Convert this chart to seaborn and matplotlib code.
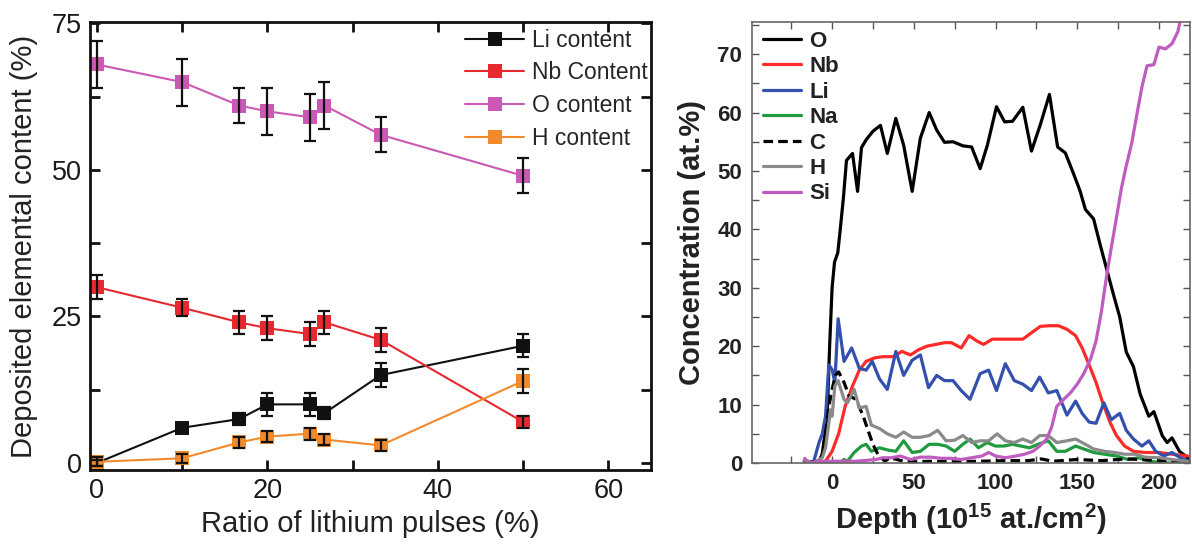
import numpy as np
import pandas as pd
import matplotlib
matplotlib.use("Agg")
import matplotlib.pyplot as plt
from matplotlib.ticker import MultipleLocator
from matplotlib.lines import Line2D
import seaborn as sns

# ---------------- left panel: deposited composition vs. Li pulse ratio ----------------
li_ratio = [0, 10, 16.7, 20, 25, 26.7, 33.3, 50]

li_content = [0, 6, 7.5, 10, 10, 8.5, 15, 20]
li_err = [0.5, 0.8, 1, 2, 2, 1, 2, 2]
nb_content = [30, 26.5, 24, 23, 22, 24, 21, 7]
nb_err = [2, 1.5, 2, 2, 2, 2, 2, 1]
o_content = [68, 65, 61, 60, 59, 61, 56, 49]
o_err = [4, 4, 3, 4, 4, 4, 3, 3]
h_content = [0.2, 0.8, 3.5, 4.5, 5, 4, 3, 14]
h_err = [0.8, 0.8, 1, 1, 1, 1, 1, 2]

left_labels = ["Li content", "Nb Content", "O content", "H content"]
left_colors = ["#111111", "#e8282f", "#cc58b6", "#f28a2c"]

# ---------------- right panel: depth profile ----------------
o_depth = [-17, -11.5, -8, -6, -3, -1.5, 0, 1.5, 3.5, 5, 7, 8.8, 12.5, 15.6, 18, 21, 25, 29.6,
           33.8, 39, 43.8, 49, 54, 59.4, 64, 68.8, 74, 80, 85.4, 90.6, 95, 100.6, 105.6, 110.4,
           116.7, 122, 127.5, 133, 138, 142.7, 147.5, 151.7, 155, 160, 164, 168, 172.5, 176,
           180, 184.4, 188.5, 193.8, 196.9, 202, 205, 208, 212.5, 217.7]
o_conc = [0.3, 0, 0.2, 1.5, 8, 20, 30, 34.4, 36, 40, 45.6, 51.8, 53, 46.5, 54, 55.4, 56.8, 57.8,
          53, 59, 54.4, 46.5, 55.6, 60, 57, 54.9, 55, 54.3, 54.1, 50.4, 54.4, 61, 58.4, 58.5,
          60.9, 53.4, 58, 63.1, 54.1, 53.1, 49.7, 46.6, 43.4, 41.8, 37.4, 33.2, 28.5, 25,
          19, 16.5, 11.8, 8, 8.8, 4.7, 3.5, 4.3, 2, 0.9]

nb_depth = [-17, -8, -4, 0, 4, 8, 12.5, 16.7, 20.8, 26, 31, 37.5, 42.7, 48, 53, 58, 63.5, 68.8,
            73, 79, 83.8, 88.5, 92.7, 98, 104, 111.5, 116.7, 122.5, 127.5, 133, 138.5, 143.7,
            149, 153, 157.3, 161.5, 165.6, 170, 174, 179, 184.4, 191.6, 200, 208, 217.7]
nb_conc = [0, 0, 0.3, 2, 5, 9.7, 13.2, 15.9, 17.4, 18, 18.2, 18.2, 19.1, 18.5, 19.4, 20, 20.3, 20.6,
           20.6, 19.7, 21.8, 20.9, 20.3, 21.2, 21.2, 21.2, 21.2, 22.4, 23.4, 23.5, 23.5, 22.9,
           21.8, 19.7, 16.8, 13.8, 10.3, 7, 4.7, 2.9, 2, 1.8, 1.8, 1.5, 1.2]

li_depth = [-17, -11.5, -8, -6, -4, -2, 0, 1.7, 3.7, 7.3, 12, 16.7, 20.8, 24.6, 29, 33.8, 39,
            43.8, 49, 54, 59, 64, 68.8, 74, 79, 84.4, 90.6, 95.8, 100.6, 106, 111.5, 116.7, 122,
            127, 132.3, 137.5, 143.7, 149, 153, 157.3, 161.5, 166.3, 170.8, 176, 180, 184.4,
            189.6, 193.8, 198, 203, 208, 213, 218.7]
li_conc = [0.5, 0, 3.5, 5, 8, 16.8, 16, 13.8, 24.7, 17.4, 19.7, 16.2, 15.9, 17.4, 14.4, 12.6, 19.1,
           15, 17.6, 18.5, 12.9, 15, 14.1, 14.1, 12.4, 10.9, 15.3, 15.9, 12.4, 17, 14.1, 13.5, 12.4,
           14.7, 12, 12.4, 8.2, 10.6, 8.5, 7, 6.8, 10.3, 7.4, 8.5, 5.6, 4.1,
           2.9, 3.8, 2, 1.2, 1.8, 0.9, 0.3]

na_depth = [-17, 5, 7.3, 9.4, 13.5, 18, 20.8, 24, 29, 34.4, 39, 43.8, 49, 54, 59.4, 64.6, 69.8,
            75, 80, 84.4, 89.6, 94.8, 100, 105, 110.4, 115.6, 120.8, 126, 132.3, 137.5, 142.7,
            149, 154, 160, 166.7, 174, 181, 187.5, 194.8, 202, 210, 218.7]
na_conc = [0, 0, 0.6, 0.3, 1.8, 2.9, 3.2, 2, 2.6, 2.2, 2, 3.8, 1.8, 2, 3.2, 3.2, 2.9,
           2, 3.2, 4.1, 2.6, 3.5, 2.9, 2.9, 3.2, 2.9, 2.6, 3.2, 3.8, 2, 2,
           2.9, 2.4, 1.8, 1.5, 1.2, 0.6, 0.9, 0.3, 0, 0, 0]

c_depth = [-17, -8, -6, -4, -2, 0, 2, 4, 7.3, 10.4, 14.6, 18.8, 22, 25, 28, 32.3, 35.4, 39.6,
           43.8, 49, 60, 75, 90, 105, 120, 128, 135, 150, 165, 180, 195, 210, 219]
c_conc = [0.2, 0.2, 1.5, 5, 9.7, 12.6, 15, 15.6, 13.8, 11.5, 10.9, 8.2, 5.6, 3.2, 1.5, 0.3, 0.9, 0.6,
          0.3, 0.2, 0.3, 0.2, 0.3, 0.4, 0.4, 0.7, 0.3, 0.6, 0.4, 0.7, 0.5, 0.4, 0.3]

h_depth = [-17, -11.5, -6, -4, -2, -1, 0, 1.7, 3.7, 7.3, 9.4, 13.5, 16.7, 20.8, 24, 29, 33.8, 39,
           43.8, 49, 54, 59.4, 64.6, 69.8, 75, 80, 85.4, 90.6, 95.8, 101, 106, 111.5, 116.7,
           122, 127, 132.3, 137.5, 143.7, 149, 155, 160, 166.7, 173, 179, 185.4, 191.6, 200,
           208, 217.7]
h_conc = [0.5, 0, 0.9, 2.6, 6.8, 9.1, 8, 13.2, 14.1, 10.9, 10.3, 12.6, 9.4, 9.7, 6.5, 5.9, 5, 4.4,
          5.3, 4.4, 4.4, 4.7, 5.6, 3.8, 3.9, 4.7, 3.5, 3.8, 3.8, 5, 3.8, 3.5, 4.1,
          3.5, 4.7, 4.7, 3.5, 3.8, 4.1, 3.2, 2.4, 2, 1.8, 1.5, 1.5, 1, 0.9,
          0.6, 0.3]

si_depth = [-16.7, -14.6, -8, 0, 14.6, 27, 31, 36.5, 41.7, 48, 54, 60.4, 66.7, 73, 79, 85.4,
            91.7, 95.8, 100, 106, 112.5, 117.7, 122.9, 127, 131.3, 134.4, 137.5, 141.7, 145.8,
            150, 154, 158.3, 161.5, 164.6, 167.7, 170.8, 174, 177, 180, 183.3, 186.5, 189.6,
            192.7, 196.9, 200, 204, 208, 211.5, 214.6, 216]
si_conc = [0.8, 0, 0.3, 0.3, 0.3, 0.6, 0.9, 0.9, 1.2, 0.6, 1, 1, 0.8, 0.8, 0.6, 0.9,
           1.2, 1.8, 1.2, 0.9, 1.2, 1.5, 2, 2.9, 4.1, 6.2, 9.7, 10.9, 12,
           13.5, 15.3, 17.9, 20.9, 25.6, 31.5, 36.8, 42, 47, 50.9, 54.7, 59.7, 64.4,
           68, 68.2, 71.2, 70.9, 71.8, 73.8, 77.6, 80]

elements = ["O", "Nb", "Li", "Na", "C", "H", "Si"]
element_colors = ["#000000", "#ff2a2a", "#3350ad", "#1f9a3e", "#000000", "#8a8a8a", "#c05cc0"]

# ---------------- styling ----------------
sns.set_style("ticks")
plt.rcParams["font.family"] = ["Liberation Sans", "DejaVu Sans"]
plt.rcParams["mathtext.fontset"] = "custom"
plt.rcParams["mathtext.rm"] = "Liberation Sans"
plt.rcParams["mathtext.bf"] = "Liberation Sans:bold"

fig = plt.figure(figsize=(11.92, 5.44), dpi=100)
W, H = 1192, 544
ax1 = fig.add_axes([90 / W, (H - 470) / H, 561 / W, 448 / H])
ax2 = fig.add_axes([752 / W, (H - 463) / H, 438 / W, 441 / H])

# ----- left panel -----
rows = []
for lab, vals in zip(left_labels, [li_content, nb_content, o_content, h_content]):
    for x, v in zip(li_ratio, vals):
        rows.append({"ratio": x, "content": v, "series": lab})
left_df = pd.DataFrame(rows)

sns.lineplot(data=left_df, x="ratio", y="content", hue="series", hue_order=left_labels,
             palette=left_colors, marker="s", markersize=10.5, markeredgewidth=0,
             linewidth=1.5, estimator=None, sort=False, ax=ax1, legend=False, zorder=2)

for vals, errs in zip([li_content, nb_content, o_content, h_content],
                      [li_err, nb_err, o_err, h_err]):
    ax1.errorbar(li_ratio, vals, yerr=errs, fmt="none", ecolor="#111111",
                 elinewidth=1.6, capsize=4, capthick=1.6, zorder=3)

ax1.set_xlim(-0.8, 65)
ax1.set_ylim(-1.2, 75.25)
ax1.xaxis.set_major_locator(MultipleLocator(20))
ax1.xaxis.set_minor_locator(MultipleLocator(10))
ax1.yaxis.set_major_locator(MultipleLocator(25))
ax1.yaxis.set_minor_locator(MultipleLocator(12.5))
ax1.tick_params(which="both", direction="in", top=True, right=True, width=2,
                labelsize=19.5, color="#111111", labelcolor="#1a1a1a", pad=6)
ax1.tick_params(which="major", length=7)
ax1.tick_params(which="minor", length=7)
for s in ax1.spines.values():
    s.set_linewidth(2)
    s.set_color("#111111")
ax1.set_xlabel("Ratio of lithium pulses (%)", fontsize=21, color="#222222", labelpad=4)
ax1.set_ylabel("Deposited elemental content (%)", fontsize=21, color="#222222", labelpad=10)

left_handles = [Line2D([], [], color=c, marker="s", markersize=10.5, markeredgewidth=0, linewidth=1.5)
                for c in left_colors]
ax1.legend(left_handles, left_labels, loc="upper left", bbox_to_anchor=(0.668, 0.985),
           frameon=False, fontsize=16.5, handlelength=2.6, handletextpad=0.35,
           labelspacing=0.42, borderpad=0, borderaxespad=0)

# ----- right panel -----
rows = []
series = [(o_depth, o_conc), (nb_depth, nb_conc), (li_depth, li_conc), (na_depth, na_conc),
          (c_depth, c_conc), (h_depth, h_conc), (si_depth, si_conc)]
for el, (d, c) in zip(elements, series):
    for x, v in zip(d, c):
        rows.append({"depth": x, "conc": v, "element": el})
right_df = pd.DataFrame(rows)

dash_map = {el: "" for el in elements}
dash_map["C"] = (3, 1.6)
sns.lineplot(data=right_df, x="depth", y="conc", hue="element", hue_order=elements,
             palette=element_colors, style="element", style_order=elements, dashes=dash_map,
             linewidth=2.3, estimator=None, sort=False, ax=ax2, legend=False)

ax2.set_xlim(-49, 219)
ax2.set_ylim(0, 75.5)
ax2.xaxis.set_major_locator(MultipleLocator(50))
ax2.xaxis.set_minor_locator(MultipleLocator(25))
ax2.yaxis.set_major_locator(MultipleLocator(10))
ax2.yaxis.set_minor_locator(MultipleLocator(5))
ax2.tick_params(which="both", direction="in", top=True, right=True, width=1,
                color="#555555", labelsize=16, pad=7)
ax2.tick_params(which="major", length=5)
ax2.tick_params(which="minor", length=5)
for lab in ax2.get_xticklabels() + ax2.get_yticklabels():
    lab.set_fontweight("bold")
    lab.set_color("#222222")
for s in ax2.spines.values():
    s.set_linewidth(1.2)
    s.set_color("#666666")
ax2.set_xlabel(r"Depth (10$^{\mathbf{15}}$ at./cm$^{\mathbf{2}}$)", fontsize=21,
               fontweight="bold", color="#222222", labelpad=6)
ax2.set_ylabel("Concentration (at.%)", fontsize=21, fontweight="bold", color="#222222",
               labelpad=8)

right_handles = []
for el, c in zip(elements, element_colors):
    ls = (0, (3, 1.6)) if el == "C" else "-"
    right_handles.append(Line2D([], [], color=c, linewidth=2.3, linestyle=ls))
leg = ax2.legend(right_handles, elements, loc="upper left", bbox_to_anchor=(0.025, 0.98),
                 frameon=False, fontsize=16, handlelength=1.7, handletextpad=0.4,
                 labelspacing=0.2, borderpad=0, borderaxespad=0)
for t in leg.get_texts():
    t.set_fontweight("bold")
    t.set_color("#222222")

fig.savefig("out.png", dpi=100, facecolor="white")
